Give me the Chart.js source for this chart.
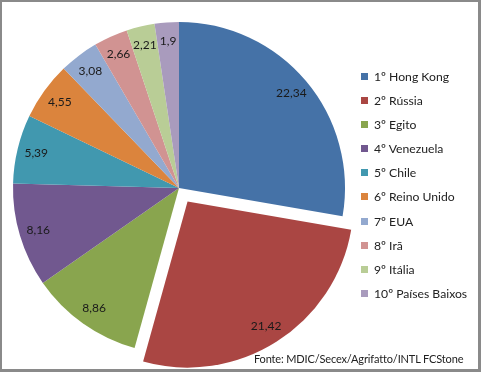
<!DOCTYPE html>
<html>
<head>
<meta charset="utf-8">
<script src="https://cdn.jsdelivr.net/npm/chart.js@4"></script>
<style>
  html, body { margin: 0; padding: 0; background: #fff; }
  #wrap { position: relative; width: 481px; height: 372px; overflow: hidden; font-family: Lato, 'Liberation Sans', sans-serif; }
  #wrap canvas { position: absolute; left: 0; top: 0; }
  #frame { position: absolute; left: 0; top: 0; width: 481px; height: 372px; box-sizing: border-box;
           border: 2px solid #8a8a8a; border-right-width: 3px; border-bottom-width: 3px; pointer-events: none; }
  #legend { position: absolute; left: 361px; top: 67px; font-size: 12.2px; color: #222; }
  #legend .row { height: 24.1px; line-height: 20px; white-space: nowrap; }
  #legend .sw { display: inline-block; width: 7px; height: 7px; margin-right: 6px; vertical-align: 1px; }
  #source { position: absolute; left: 254px; top: 352px; font-size: 11px; letter-spacing: -0.15px; color: #222; white-space: nowrap; }
</style>
</head>
<body>
<div id="wrap">
  <canvas id="pieChart" width="481" height="372"></canvas>
  <div id="legend"></div>
  <div id="source">Fonte: MDIC/Secex/Agrifatto/INTL FCStone</div>
  <div id="frame"></div>
</div>
<script>
// dados do gráfico
const countries = ['1º Hong Kong', '2º Rússia', '3º Egito', '4º Venezuela', '5º Chile',
                   '6º Reino Unido', '7º EUA', '8º Irã', '9º Itália', '10º Países Baixos'];
const shares = [22.34, 21.42, 8.86, 8.16, 5.39, 4.55, 3.08, 2.66, 2.21, 1.9];
const sliceColors = ['#4572A7', '#AA4643', '#89A54E', '#71588F', '#4198AF',
                     '#DB843D', '#93A9CF', '#D19392', '#B9CD96', '#A99BBD'];
const explode = [0, 64, 0, 0, 0, 0, 0, 0, 0, 0];

// rótulos de valor dentro das fatias
const valueLabels = {
    id: 'valueLabels',
    afterDatasetsDraw(chart) {
        const ctx = chart.ctx;
        const meta = chart.getDatasetMeta(0);
        ctx.save();
        ctx.font = '12px Lato, "Liberation Sans", sans-serif';
        ctx.fillStyle = '#1a1a1a';
        ctx.textAlign = 'center';
        ctx.textBaseline = 'middle';
        meta.data.forEach(function(arc, i) {
            const p = arc.getProps(['x', 'y', 'startAngle', 'endAngle', 'outerRadius'], true);
            const mid = (p.startAngle + p.endAngle) / 2;
            const dist = p.outerRadius * 0.885 + explode[i] / 4;
            const x = p.x + Math.cos(mid) * dist;
            const y = p.y + Math.sin(mid) * dist;
            ctx.fillText(shares[i].toLocaleString('pt-BR'), x, y);
        });
        ctx.restore();
    }
};

const ctxPie = document.getElementById('pieChart').getContext('2d');
new Chart(ctxPie, {
    type: 'pie',
    data: {
        labels: countries,
        datasets: [{
            data: shares,
            backgroundColor: sliceColors,
            borderWidth: 0,
            offset: explode
        }]
    },
    options: {
        responsive: false,
        animation: false,
        radius: 166,
        layout: { padding: { left: 0, right: 123, top: 4, bottom: 0 } },
        plugins: {
            legend: { display: false },
            tooltip: { enabled: false }
        }
    },
    plugins: [valueLabels]
});

// legenda
const legendBox = document.getElementById('legend');
countries.forEach(function(name, i) {
    const row = document.createElement('div');
    row.className = 'row';
    row.innerHTML = '<span class="sw" style="background:' + sliceColors[i] + '"></span>' + name;
    legendBox.appendChild(row);
});
</script>
</body>
</html>
